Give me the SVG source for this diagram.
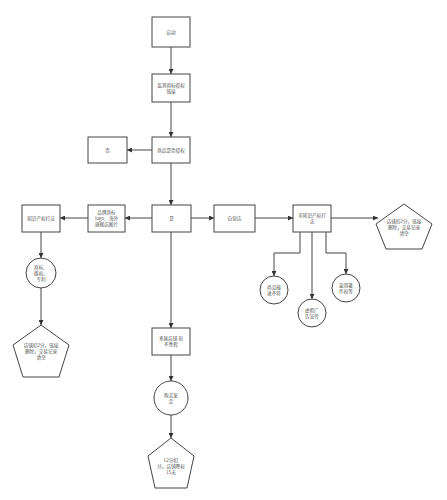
<svg xmlns="http://www.w3.org/2000/svg" width="447" height="500" viewBox="0 0 447 500">
<style>
.n{fill:#fff;stroke:#444;stroke-width:1}
.t{font-family:"Noto Sans CJK SC","Noto Sans",sans-serif;font-size:4.6px;fill:#555;text-anchor:middle}
.c{fill:none;stroke:#444;stroke-width:1}
</style>
<defs>
<marker id="a" viewBox="0 0 10 10" refX="10" refY="5" markerWidth="5" markerHeight="5" orient="auto" markerUnits="userSpaceOnUse">
<path d="M0,0 L10,5 L0,10 z" fill="#333"/>
</marker>
</defs>
<rect width="447" height="500" fill="#fff"/>
<g id="connectors">
<path class="c" marker-end="url(#a)" d="M171,47 V74"/>
<path class="c" marker-end="url(#a)" d="M171,102 V137"/>
<path class="c" marker-end="url(#a)" d="M152,150 H127"/>
<path class="c" marker-end="url(#a)" d="M171,163 V205"/>
<path class="c" marker-end="url(#a)" d="M191,218 H214"/>
<path class="c" marker-end="url(#a)" d="M152,218 H125"/>
<path class="c" marker-end="url(#a)" d="M88,218 H60"/>
<path class="c" marker-end="url(#a)" d="M255,218 H293"/>
<path class="c" marker-end="url(#a)" d="M331,218 H378"/>
<path class="c" marker-end="url(#a)" d="M41,232 V258"/>
<path class="c" marker-end="url(#a)" d="M41,288 V325"/>
<path class="c" marker-end="url(#a)" d="M300,232 V253 H274 V276"/>
<path class="c" marker-end="url(#a)" d="M312,232 V299"/>
<path class="c" marker-end="url(#a)" d="M326,232 V253 H346 V274"/>
<path class="c" marker-end="url(#a)" d="M171,232 V328"/>
<path class="c" marker-end="url(#a)" d="M171,355 V381"/>
<path class="c" marker-end="url(#a)" d="M171,415 V438"/>
</g>
<g id="start"><rect class="n" x="152" y="17" width="38" height="30"/><text class="t" x="171" y="33.5">启动</text></g>
<g id="monitor"><rect class="n" x="152" y="74" width="38" height="28"/><text class="t" x="171" y="87">监测商标侵权</text><text class="t" x="171" y="93">链接</text></g>
<g id="judge"><rect class="n" x="152" y="137" width="38" height="26"/><text class="t" x="171" y="151.5">商品是否侵权</text></g>
<g id="no"><rect class="n" x="88" y="137" width="39" height="26"/><text class="t" x="107.5" y="151.5">否</text></g>
<g id="yes"><rect class="n" x="152" y="205" width="39" height="27"/><text class="t" x="171.5" y="220">是</text></g>
<g id="self"><rect class="n" x="214" y="205" width="41" height="27"/><text class="t" x="234.5" y="220">自营店</text></g>
<g id="brand"><rect class="n" x="88" y="205" width="37" height="27"/><text class="t" x="106.5" y="213.5">品牌商标</text><text class="t" x="106.5" y="219.5">logo、海外</text><text class="t" x="106.5" y="225.5">旗舰店图片</text></g>
<g id="ip"><rect class="n" x="22" y="205" width="38" height="27"/><text class="t" x="41" y="220">知识产权打法</text></g>
<g id="nonip"><rect class="n" x="293" y="205" width="38" height="27"/><text class="t" x="312" y="216.5">非知识产权打</text><text class="t" x="312" y="222.5">法</text></g>
<g id="penalty-right"><polygon class="n" points="404,204 432,224 422,249 386,249 376,224"/><text class="t" x="404" y="223">店铺扣2分，链接</text><text class="t" x="404" y="229">删除，交易记录</text><text class="t" x="404" y="235">清空</text></g>
<g id="c1"><circle class="n" cx="274" cy="290" r="14"/><text class="t" x="274" y="289">商品描</text><text class="t" x="274" y="295">述不符</text></g>
<g id="c2"><circle class="n" cx="312" cy="313" r="14"/><text class="t" x="312" y="312">虚假广</text><text class="t" x="312" y="318">告宣传</text></g>
<g id="c3"><circle class="n" cx="346" cy="288" r="14"/><text class="t" x="346" y="287">盗用著</text><text class="t" x="346" y="293">作权等</text></g>
<g id="ipcircle"><circle class="n" cx="41" cy="273" r="15"/><text class="t" x="41" y="269">商标、</text><text class="t" x="41" y="275">版权、</text><text class="t" x="41" y="281">专利</text></g>
<g id="penalty-left"><polygon class="n" points="41,325 69,345 59,377 23,377 13,345"/><text class="t" x="41" y="347">店铺扣2分，链接</text><text class="t" x="41" y="353">删除，交易记录</text><text class="t" x="41" y="359">清空</text></g>
<g id="store"><rect class="n" x="152" y="328" width="38" height="27"/><text class="t" x="171" y="339.5">多属店铺 和</text><text class="t" x="171" y="345.5">不售假</text></g>
<g id="buy"><circle class="n" cx="171" cy="398" r="17"/><text class="t" x="171" y="397">购买鉴</text><text class="t" x="171" y="403">定</text></g>
<g id="penalty-bottom"><polygon class="n" points="171,438 194,456 187,488 155,488 148,456"/><text class="t" x="171" y="462">L2分扣</text><text class="t" x="171" y="468">分，店铺降权</text><text class="t" x="171" y="474">15天</text></g>
</svg>
